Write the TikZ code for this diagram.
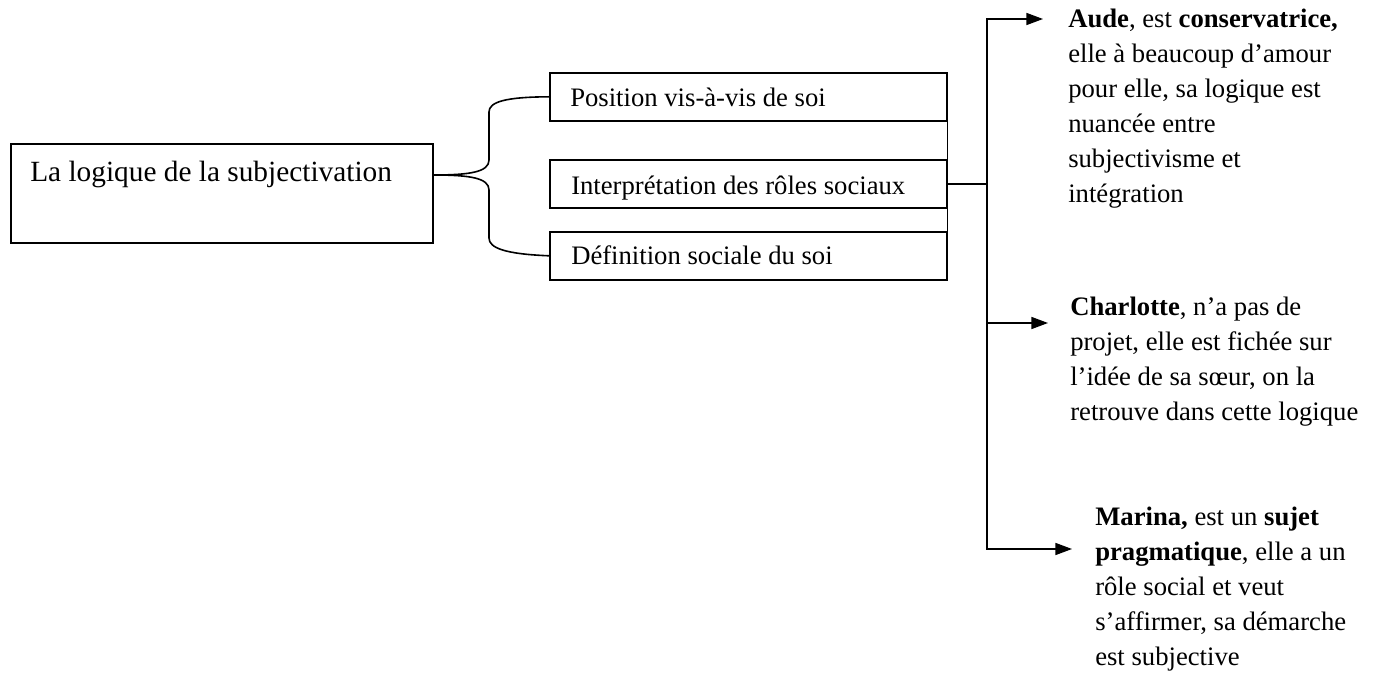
\documentclass[tikz,border=0pt]{standalone}
\usepackage{fontspec}
\setmainfont{Liberation Serif}
\usetikzlibrary{arrows.meta}
\begin{document}
\begin{tikzpicture}[x=0.75pt, y=-0.75pt,
  line/.style={line width=1.2pt},
  box/.style={draw, line width=1.2pt, anchor=north west, inner sep=0pt,
    minimum width=297.75pt, minimum height=36pt},
  boxtext/.style={anchor=base west, inner sep=0pt, font=\fontsize{20}{24}\selectfont},
  note/.style={anchor=north west, inner sep=0pt, align=left,
    font=\fontsize{20}{26.25}\selectfont},
  arr/.style={line, -{Triangle[length=12.5pt, width=9pt]}}]
\useasboundingbox (0,0) rectangle (1373,677);

% main box
\node[box, minimum width=316.5pt, minimum height=74.25pt] (main) at (10,143) {};
\node[boxtext, font=\fontsize{22}{26}\selectfont] (mainT) at (30,182) {La logique de la subjectivation};

% the three dimensions
\node[box] (pos) at (549,72) {};
\node[box] (int) at (549,159) {};
\node[box] (def) at (549,231) {};
\node[boxtext] (posT) at (570,107) {Position vis-à-vis de soi};
\node[boxtext] (intT) at (571,195) {Interprétation des rôles sociaux};
\node[boxtext] (defT) at (571,264) {Définition sociale du soi};

% brace from the main box to the first and last dimension
\coordinate (mainR) at ([yshift=-24pt]main.north east);
\draw[line] (mainR) .. controls (470,175) and (489,172) .. (489,160)
  -- (489,112) .. controls (489,102) and (505,97) .. (pos.west);
\draw[line] (mainR) .. controls (470,175) and (489,178) .. (489,190)
  -- (489,238) .. controls (489,248) and (505,254) .. (def.west);

% right edges joined
\draw[line] (pos.south east) -- (def.north east);

% the three cases
\node[note] (aude) at (1068,2.5) {\strut\textbf{Aude}, est \textbf{conservatrice,}\\
  elle à beaucoup d’amour\\
  pour elle, sa logique est\\
  nuancée entre\\
  subjectivisme et\\
  intégration};
\node[note] (cha) at (1070,290.5) {\strut\textbf{Charlotte}, n’a pas de\\
  projet, elle est fichée sur\\
  l’idée de sa sœur, on la\\
  retrouve dans cette logique};
\node[note] (mar) at (1095,500.5) {\strut\textbf{Marina,} est un \textbf{sujet}\\
  \textbf{pragmatique}, elle a un\\
  rôle social et veut\\
  s’affirmer, sa démarche\\
  est subjective};

% spine and arrows
\coordinate (jA) at (987,19);
\coordinate (jC) at (987,323);
\coordinate (jM) at (987,549);
\draw[line] (int.east) -- (int.east -| jA);
\draw[arr, shorten >=18.75pt] (jC) -- (jA) -- (jA -| aude.west);
\draw[arr, shorten >=17.25pt] (jC) -- (jM) -- (jM -| mar.west);
\draw[arr, shorten >=16.5pt] (jC) -- (jC -| cha.west);
\end{tikzpicture}
\end{document}
